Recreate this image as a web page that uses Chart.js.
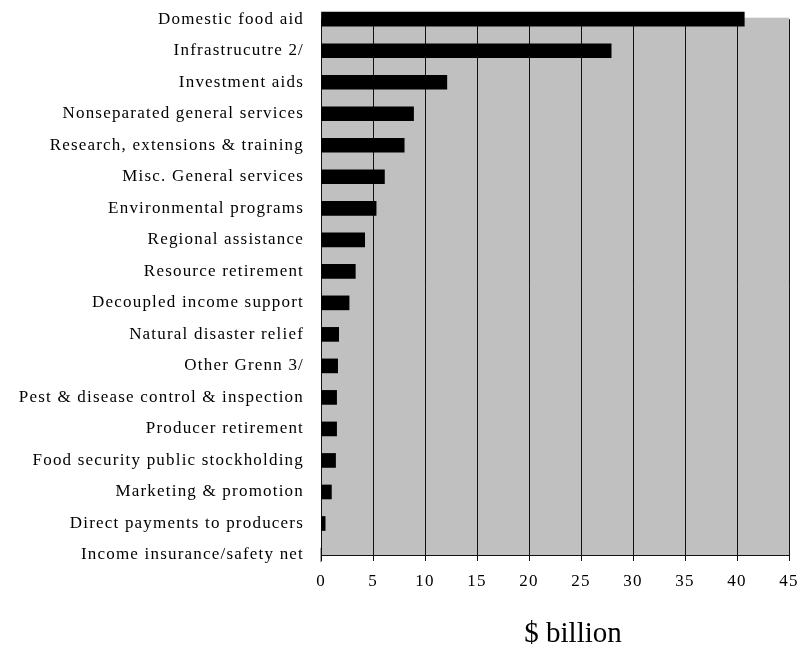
<!DOCTYPE html>
<html>
<head>
<meta charset="utf-8">
<script src="https://cdn.jsdelivr.net/npm/chart.js@4/dist/chart.umd.min.js"></script>
<style>
    body { margin: 0; background: #fff; }
    canvas { display: block; }
</style>
</head>
<body>
<canvas id="chart" width="798" height="647"></canvas>
<script>
// --- Data ---
const categories = [
    'Domestic food aid',
    'Infrastrucutre 2/',
    'Investment aids',
    'Nonseparated general services',
    'Research, extensions & training',
    'Misc. General services',
    'Environmental programs',
    'Regional assistance',
    'Resource retirement',
    'Decoupled income support',
    'Natural disaster relief',
    'Other Grenn 3/',
    'Pest & disease control & inspection',
    'Producer retirement',
    'Food security public stockholding',
    'Marketing & promotion',
    'Direct payments to producers',
    'Income insurance/safety net'
];
const values = [40.7, 27.9, 12.1, 8.9, 8.0, 6.1, 5.3, 4.2, 3.3, 2.7, 1.7, 1.6, 1.5, 1.5, 1.4, 1.0, 0.4, 0];
const xMin = 0;
const xMax = 45;
const xStep = 5;
const xTitle = '$ billion';

// --- Plugins ---
const spacing = {
    id: 'spacing',
    beforeLayout(chart) { chart.ctx.letterSpacing = '1.2px'; },
    beforeDraw(chart) { chart.ctx.letterSpacing = '1.2px'; }
};

const plotBg = {
    id: 'plotBg',
    beforeDraw(chart) {
        const { ctx, chartArea: a } = chart;
        ctx.save();
        ctx.fillStyle = '#c0c0c0';
        ctx.fillRect(a.left, a.top - 1.5, a.right - a.left, a.bottom - a.top + 1.5);
        ctx.restore();
    }
};

new Chart(document.getElementById('chart'), {
    type: 'bar',
    data: {
        labels: categories,
        datasets: [{
            data: values,
            backgroundColor: '#000',
            borderWidth: 0,
            barThickness: 14,
            clip: false
        }]
    },
    options: {
        indexAxis: 'y',
        responsive: false,
        animation: false,
        layout: { padding: { left: 0, right: 9, top: 12, bottom: 0 } },
        plugins: { legend: { display: false }, tooltip: { enabled: false } },
        scales: {
            x: {
                min: xMin, max: xMax,
                ticks: {
                    stepSize: xStep,
                    color: '#000',
                    padding: 10,
                    maxRotation: 0,
                    font: { family: 'Liberation Serif', size: 17 }
                },
                grid: { color: '#111', lineWidth: 1, tickLength: 6, tickColor: '#111' },
                border: { display: true, color: '#111', width: 1 },
                title: {
                    display: true,
                    text: xTitle,
                    color: '#000',
                    padding: { top: 0, bottom: 0 },
                    font: { family: 'Liberation Serif', size: 29, lineHeight: 0.88 }
                },
                afterFit: (scale) => {
                    scale.height = 92;
                    scale.paddingRight = 0;
                    // title sits a bit right of the plot centre, no letter spacing
                    if (!scale._titleWrapped) {
                        const orig = scale.drawTitle;
                        scale.drawTitle = function () {
                            this.ctx.save();
                            this.ctx.letterSpacing = '0px';
                            this.ctx.translate(18, 0);
                            orig.call(this);
                            this.ctx.restore();
                        };
                        scale._titleWrapped = true;
                    }
                }
            },
            y: {
                offset: false,
                ticks: {
                    color: '#000',
                    padding: 9,
                    autoSkip: false,
                    font: { family: 'Liberation Serif', size: 17 }
                },
                grid: { display: false },
                border: { display: true, color: '#111', width: 1 },
                afterFit: (scale) => { scale.width = 321; }
            }
        }
    },
    plugins: [spacing, plotBg]
});
</script>
</body>
</html>
